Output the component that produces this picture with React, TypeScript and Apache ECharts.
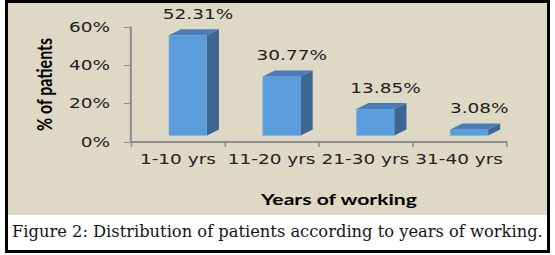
import React, { useEffect, useRef } from 'react';
import * as echarts from 'echarts';

const categories = ['1-10 yrs', '11-20 yrs', '21-30 yrs', '31-40 yrs'];
const percentValues = [52.31, 30.77, 13.85, 3.08];
const valueLabels = ['52.31%', '30.77%', '13.85%', '3.08%'];
const yMin = 0;
const yMax = 60;
const yStep = 20;
const yAxisTitle = '% of patients';
const xAxisTitle = 'Years of working';
const caption = 'Figure 2: Distribution of patients according to years of working.';

const OUT_W = 555;
const H = 255;
const W = 420;
const S = OUT_W / W;
const X = (px: number) => px / S;

export default function App() {
  const ref = useRef<HTMLDivElement>(null);
  useEffect(() => {
    if (!ref.current) return;
    const chart = echarts.init(ref.current, null, { renderer: 'svg' });
    const data = categories.map((c, i) => [i, percentValues[i]]);
    const option: any = {
      animation: false,
      backgroundColor: 'transparent',
      graphic: [
        { type: 'rect', z: -100, silent: true, shape: { x: X(5), y: 0, width: X(550) - X(5), height: 253 }, style: { fill: '#000' } },
        { type: 'rect', z: -99, silent: true, shape: { x: X(8), y: 3, width: X(547) - X(8), height: 247 }, style: { fill: '#fff' } },
        { type: 'rect', z: -98, silent: true, shape: { x: X(8), y: 3, width: X(547) - X(8), height: 212 }, style: { fill: '#DDD9C4' } },
        {
          type: 'text', z: 10, x: X(12), y: 232, scaleX: 1 / S,
          style: { text: caption, fill: '#151515', font: '16.3px "DejaVu Serif"', verticalAlign: 'middle', align: 'left' },
        },
      ],
      grid: { left: X(131), right: W - X(506), top: 27, bottom: H - 142, containLabel: false },
      xAxis: {
        type: 'category',
        data: categories,
        boundaryGap: true,
        name: xAxisTitle,
        nameLocation: 'middle',
        nameGap: 49,
        nameTextStyle: { fontFamily: 'Lato', fontWeight: 'bold', fontSize: 16, color: '#000', padding: [0, 0, 0, 31] },
        axisLine: { lineStyle: { color: '#8E8E8E', width: 2 } },
        axisTick: { show: true, length: 5, alignWithLabel: false, lineStyle: { color: '#8E8E8E', width: 1.2 } },
        axisLabel: { interval: 0, hideOverlap: false, fontFamily: 'DejaVu Sans', fontSize: 14, color: '#222', margin: 10 },
        splitLine: { show: false },
      },
      yAxis: {
        type: 'value',
        min: yMin,
        max: yMax,
        interval: yStep,
        name: yAxisTitle,
        nameLocation: 'middle',
        nameGap: 58,
        nameRotate: 90,
        nameTextStyle: { fontFamily: 'Lato', fontWeight: 'bold', fontSize: 16, color: '#000' },
        axisLine: { show: true, lineStyle: { color: '#8E8E8E', width: 1.6 } },
        axisTick: { show: true, length: X(7), lineStyle: { color: '#8E8E8E', width: 1 } },
        axisLabel: { fontFamily: 'DejaVu Sans', fontSize: 14, color: '#222', margin: X(21), formatter: '{value}%' },
        splitLine: { show: false },
      },
      series: [
        {
          type: 'custom',
          clip: false,
          data,
          encode: { x: 0, y: 1 },
          renderItem: (params: any, api: any) => {
            const i = api.value(0);
            const v = api.value(1);
            const top = api.coord([i, v]);
            const base = api.coord([i, 0]);
            const bw = api.size([1, 0])[0];
            const fx = base[0] - bw * 0.095;
            const fw = bw * 0.405;
            const lift = 6.5;
            const y1 = top[1] - lift;
            const y0 = base[1] - lift;
            const dx = bw * 0.128;
            const dy = 6;
            return {
              type: 'group',
              children: [
                { type: 'rect', shape: { x: fx, y: y1, width: fw, height: y0 - y1 }, style: { fill: '#5B9CDA', stroke: '#80B4E4', lineWidth: 0.6 } },
                { type: 'polygon', shape: { points: [[fx + fw, y1], [fx + fw + dx, y1 - dy], [fx + fw + dx, y0 - dy], [fx + fw, y0]] }, style: { fill: '#3D6692' } },
                { type: 'polygon', shape: { points: [[fx, y1], [fx + dx, y1 - dy], [fx + fw + dx, y1 - dy], [fx + fw, y1]] }, style: { fill: '#4A7DB8' } },
                {
                  type: 'text', x: fx + fw / 2 + bw * 0.107, y: y1 - dy - 8,
                  style: { text: valueLabels[params.dataIndex], fill: '#1E1E1E', font: '14px "DejaVu Sans"', align: 'center', verticalAlign: 'bottom' },
                },
              ],
            };
          },
        },
      ],
    };
    chart.setOption(option);
    return () => chart.dispose();
  }, []);
  return (
    <div style={{ position: 'absolute', left: 0, top: 0, width: OUT_W, height: H, background: '#fff', overflow: 'hidden' }}>
      <div ref={ref} style={{ position: 'absolute', left: 0, top: 0, width: W, height: H, transform: `scaleX(${S})`, transformOrigin: '0 0' }} />
    </div>
  );
}
